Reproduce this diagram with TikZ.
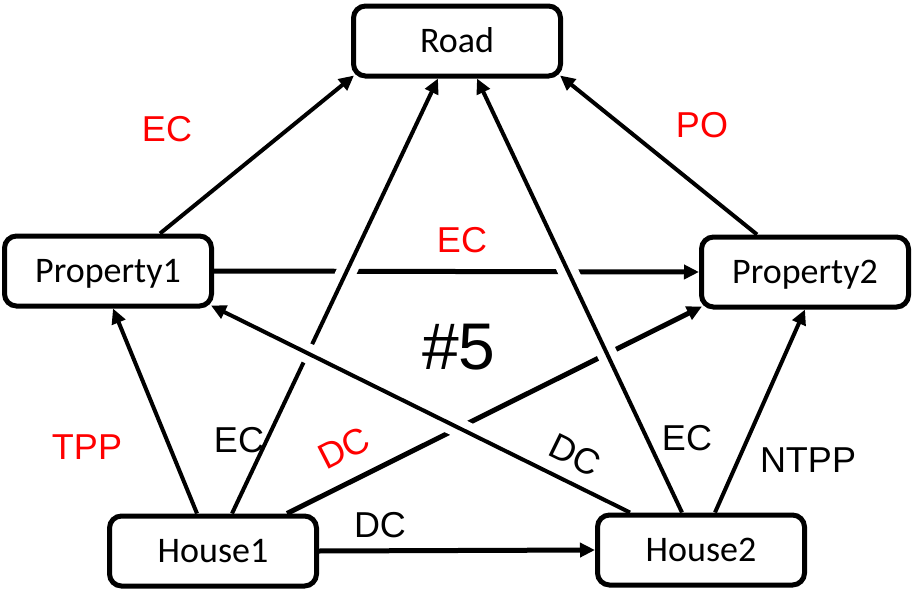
\documentclass[tikz,border=0pt]{standalone}
\usepackage{fontspec}
\setmainfont{Liberation Sans}
\newfontfamily\boxfont{Carlito}
\usetikzlibrary{arrows.meta,backgrounds}
\begin{document}
\begin{tikzpicture}[x=1pt,y=-1pt,
  box/.style={draw, line width=5pt, rounded corners=12pt, fill=white,
    minimum width=207pt, minimum height=70pt, inner sep=0pt,
    font=\boxfont\fontsize{36}{40}\selectfont, text height=23pt, text depth=0pt},
  rel/.style={line width=4pt, -{Triangle[length=15pt,width=14pt]}},
  relthick/.style={rel, line width=5pt},
  over/.style={preaction={draw=white, line width=20pt, -}},
  lab/.style={font=\fontsize{36}{40}\selectfont, inner sep=0pt},
  redlab/.style={lab, text=red}]
\useasboundingbox (0,0) rectangle (914,597);

\node[box] (road) at (457,41) {Road};
\node[box] (p1) at (108,271) {Property1};
\node[box] (p2) at (805,272) {Property2};
\node[box] (h1) at (213,551) {House1};
\node[box] (h2) at (701,550) {House2};

\begin{pgfonlayer}{background}
\draw[rel] ([xshift=52pt]p1.north) -- ([shift={(3pt,3pt)}]road.south west);
\draw[rel] ([xshift=-48pt]p2.north) -- ([shift={(-3pt,3pt)}]road.south east);
\draw[relthick] (p1.east) -- (p2.west);
\draw[rel] ([xshift=-16pt]h1.north) -- ([xshift=5pt]p1.south);
\draw[relthick] ([xshift=74pt]h1.north) -- ([shift={(3pt,3pt)}]p2.south west);
\draw[relthick] (h1.east) -- (h2.west);
\draw[rel,over] ([xshift=19pt]h1.north) -- ([xshift=-19pt]road.south);
\draw[rel,over] ([xshift=-71pt]h2.north) -- ([shift={(-3pt,3pt)}]p1.south east);
\draw[rel,over] ([xshift=-19pt]h2.north) -- ([xshift=20pt]road.south);
\draw[rel] ([xshift=14pt]h2.north) -- (p2.south);
\end{pgfonlayer}

\node[redlab] (lEC1) at (167,129) {EC};
\node[redlab] (lPO) at (702,125) {PO};
\node[redlab] (lEC2) at (462,240) {EC};
\node[redlab] (lTPP) at (87,447) {TPP};
\node[lab] (lEC3) at (239,440) {EC};
\node[redlab, rotate=27] (lDC1) at (344,448) {DC};
\node[lab, rotate=-26] (lDC2) at (575,455) {DC};
\node[lab] (lEC4) at (687,438) {EC};
\node[lab] (lNTPP) at (808,460) {NTPP};
\node[lab] (lDC3) at (380,525) {DC};
\node[font=\fontsize{66}{70}\selectfont, inner sep=0pt] (num) at (459,347) {\#5};
\end{tikzpicture}
\end{document}
